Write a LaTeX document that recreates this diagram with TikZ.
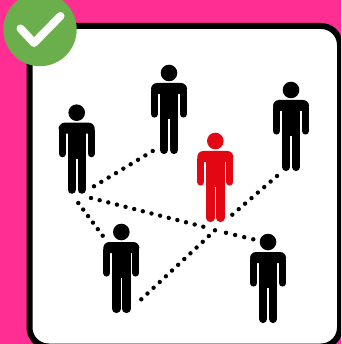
\documentclass[tikz,border=0pt]{standalone}
\usetikzlibrary{calc}
\definecolor{bgpink}{HTML}{FF2E93}
\definecolor{badge}{HTML}{6AAF4B}
\definecolor{redman}{HTML}{E30613}
\newcommand\dotrun[3]{\foreach \i in {0,...,#3}{\fill[black] ($(#1)!\i/#3!(#2)$) circle (2.2);}}
\tikzset{
  x=1pt,y=-1pt,
  panel/.style={draw=black,line width=6pt,fill=white,rounded corners=19pt},
  tick/.style={draw=white,line width=8pt,line cap=round,line join=round},
  pics/person/.style={code={
    \fill[#1] (0,0) circle (8.3);
    \fill[#1,rounded corners=6pt] (-18,21) -- (-18,10) -- (18,10) -- (18,21) -- cycle;
    \fill[#1] (-9.2,16) rectangle (9.2,46);
    \draw[#1,line width=7.2pt,line cap=round] (-14.5,18) -- (-14.5,41);
    \draw[#1,line width=7.2pt,line cap=round] (14.5,18) -- (14.5,41);
    \draw[#1,line width=8.4pt,line cap=round] (-5,40) -- (-5,76.9);
    \draw[#1,line width=8.4pt,line cap=round] (5,40) -- (5,76.9);
  }}
}
\begin{document}
\begin{tikzpicture}
\useasboundingbox (0,0) rectangle (341,344);
\fill[bgpink] (0,0) rectangle (341,344);
\begin{scope}
\clip (0,0) rectangle (341,344);
\path[panel] (29.5,26) rectangle (340,346.5);
\end{scope}
% dotted links
\coordinate (ab1) at (94,186.3);   \coordinate (ab2) at (152.7,151);
\coordinate (ae1) at (91,198);     \coordinate (ae2) at (203.3,226.7);
\coordinate (ae3) at (226,232.8);  \coordinate (ae4) at (253.3,239.3);
\coordinate (ad1) at (78.3,203);   \coordinate (ad2) at (102.7,235.7);
\coordinate (dc1) at (141.3,299.3);\coordinate (dc2) at (215,230.3);
\coordinate (dc3) at (232.3,214.7);\coordinate (dc4) at (277,176);
\dotrun{ab1}{ab2}{8}
\dotrun{ae1}{ae2}{13}
\dotrun{ae3}{ae4}{3}
\dotrun{ad1}{ad2}{5}
\dotrun{dc1}{dc2}{12}
\dotrun{dc3}{dc4}{7}
% people
\pic at (76.7,112.7) {person=black};
\pic at (169,73) {person=black};
\pic at (291,90) {person=black};
\pic at (215.3,141) {person=redman};
\pic at (121.3,232) {person=black};
\pic at (268,242) {person=black};
% badge
\fill[badge] (40,29.5) circle (36.7);
\coordinate (t1) at (20.5,28.5);
\coordinate (t2) at (34,43);
\coordinate (t3) at (60.5,16);
\draw[tick] (t1) -- (t2) -- (t3);
\end{tikzpicture}
\end{document}
